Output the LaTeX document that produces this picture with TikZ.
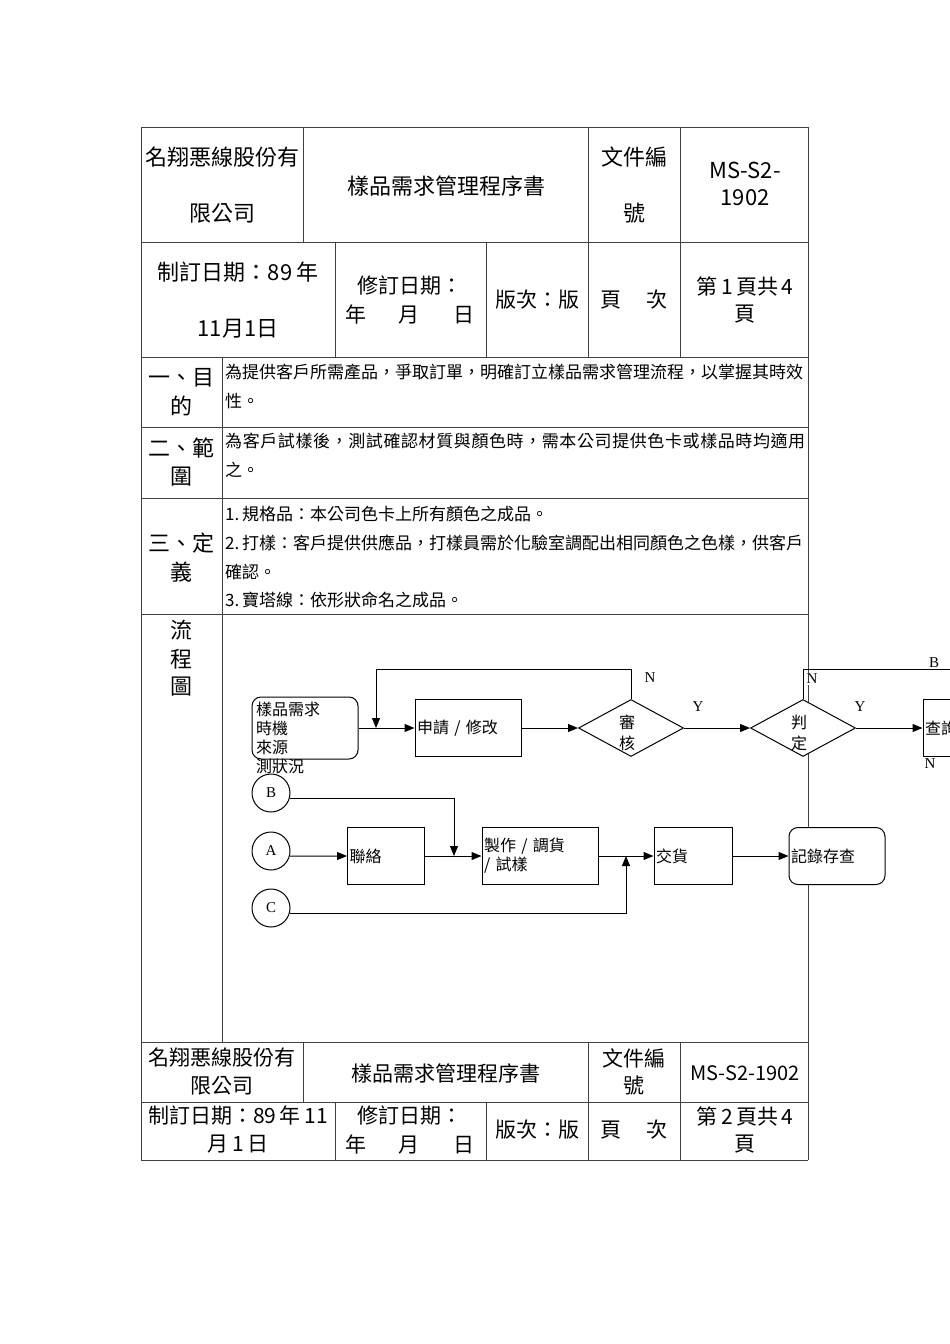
\documentclass[tikz,border=0pt]{standalone}
\usepackage{fontspec}
\setmainfont{Noto Sans CJK TC}
\newfontfamily\latserif{Liberation Serif}
\usetikzlibrary{arrows.meta,shapes.geometric,positioning}

\begin{document}
\begin{tikzpicture}[x=1pt, y=-1pt,
    grid/.style={line width=0.8pt, black!75},
    head/.style={font=\fontsize{22}{26}\selectfont, inner sep=0},
    foot/.style={font=\fontsize{21}{25}\selectfont, inner sep=0},
    body/.style={font=\fontsize{17}{20}\selectfont, anchor=west, inner sep=0},
    box/.style={draw, line width=1pt, fill=white, minimum height=57pt, inner xsep=2pt, text width=#1, align=left, font=\fontsize{16}{19}\selectfont},
    term/.style={draw, line width=1pt, fill=white, rounded corners=9pt, inner sep=0},
    decision/.style={diamond, draw, line width=1pt, fill=white, minimum width=105pt, minimum height=57pt, inner sep=0},
    dtext/.style={inner sep=0, align=center, font=\fontsize{16}{21}\selectfont},
    conn/.style={circle, draw, line width=1pt, fill=white, minimum size=38pt, inner sep=0, font=\latserif\fontsize{15}{18}\selectfont},
    flag/.style={font=\latserif\fontsize{15}{18}\selectfont, inner sep=1pt, fill=white},
    arr/.style={line width=1pt, -{Triangle[length=10pt,width=8pt]}},
    line/.style={line width=1pt}]
  \useasboundingbox (0,0) rectangle (950,1344);
  \clip (0,0) rectangle (950,1344);

  % table frame
  \foreach \y in {127,242,357,427,498,614,1042,1102,1160}
    \draw[grid] (141,\y) -- (808,\y);
  \draw[grid] (141,127) -- (141,1160);
  \draw[grid] (808,127) -- (808,1160);
  \draw[grid] (222,357) -- (222,1042);
  \foreach \x in {303,588,680} {
    \draw[grid] (\x,127) -- (\x,242);
    \draw[grid] (\x,1042) -- (\x,1102);
  }
  \foreach \x in {335,486,588,680} {
    \draw[grid] (\x,242) -- (\x,357);
    \draw[grid] (\x,1102) -- (\x,1160);
  }

  % header
  \node[head] (co1) at (222,157) {名翔悪線股份有};
  \node[head] (co2) at (222,213) {限公司};
  \node[head] (title) at (446,186) {樣品需求管理程序書};
  \node[head] (docno1) at (634,157) {文件編};
  \node[head] (docno2) at (634,213) {號};
  \node[head] (code1) at (745,170) {MS-S2-};
  \node[head] (code2) at (745,198) {1902};
  \node[head] (made1) at (238,272) {制訂日期：89\,年};
  \node[head] (made2) at (238,329) {11月1日};
  \node[head, font=\fontsize{21}{25}\selectfont] (rev1) at (410,286) {修訂日期：};
  \node[head, font=\fontsize{21}{25}\selectfont] (rev2) at (410,314) {年\hspace{1.5em}月\hspace{1.6em}日};
  \node[head, font=\fontsize{21}{25}\selectfont] (ver) at (537,300) {版次：版};
  \node[head, font=\fontsize{21}{25}\selectfont] (pg) at (634,300) {頁\hspace{1.2em}次};
  \node[head, font=\fontsize{21}{25}\selectfont] (pgno1) at (745,286) {第\,1\,頁共\,4};
  \node[head, font=\fontsize{21}{25}\selectfont] (pgno2) at (745,314) {頁};

  % sections
  \node[head] (s1a) at (181,378) {一、目};
  \node[head] (s1b) at (181,406) {的};
  \node[body] (p1) at (225,372) {為提供客戶所需產品，爭取訂單，明確訂立樣品需求管理流程，以掌握其時效};
  \node[body] (p2) at (225,401) {性。};
  \node[head] (s2a) at (181,448) {二、範};
  \node[head] (s2b) at (181,477) {圍};
  \node[body] (q1) at (225,441) {\addfontfeatures{LetterSpace=3.5}為客戶試樣後，測試確認材質與顏色時，需本公司提供色卡或樣品時均適用};
  \node[body] (q2) at (225,470) {之。};
  \node[head] (s3a) at (181,543) {三、定};
  \node[head] (s3b) at (181,572) {義};
  \node[body] (d1) at (225,514) {1.\,規格品：本公司色卡上所有顏色之成品。};
  \node[body] (d2) at (225,543) {2.\,打樣：客戶提供供應品，打樣員需於化驗室調配出相同顏色之色樣，供客戶};
  \node[body] (d3) at (225,572) {確認。};
  \node[body] (d4) at (225,600) {3.\,寶塔線：依形狀命名之成品。};
  \node[head] (s4a) at (181,630) {流};
  \node[head] (s4b) at (181,659) {程};
  \node[head] (s4c) at (181,687) {圖};

  % flow chart
  \node[term, minimum width=106pt, minimum height=62pt] (need) at (305,728) {};
  \node[anchor=north west, inner sep=0, align=left, font=\fontsize{16}{19}\selectfont] (needtxt) at (256,702) {樣品需求\\時機\\來源\\測狀況};
  \node[box=102pt] (apply) at (468,728) {申請 / 修改};
  \node[decision] (audit) at (631,728) {};
  \node[dtext] (audittxt) at (627,733) {審\\核};
  \node[decision] (judge) at (803,728) {};
  \node[dtext] (judgetxt) at (799,733) {判\\定};
  \node[box=102pt] (query) at (976,728) {查詢};
  \coordinate (j1) at (376,728);
  \coordinate (bout) at (960,669);
  \draw[arr] (need.east) -- (apply.west);
  \draw[arr] (audit.north) -- ++(0,-30) -| (j1);
  \draw[arr] (apply.east) -- (audit.west);
  \draw[arr] (audit.east) -- (judge.west);
  \draw[line] (judge.north) |- (bout);
  \draw[arr] (judge.east) -- (query.west);
  \node[flag] (n1) at (650,678) {N};
  \node[flag] (y1) at (698,707) {Y};
  \node[flag] (n2) at (812,679) {N};
  \node[flag] (y2) at (860,707) {Y};
  \node[flag] (b1) at (934,663) {B};
  \node[flag] (n3) at (930,764) {N};

  \node[conn] (cB) at (271,793) {B};
  \node[conn] (cA) at (271,851) {A};
  \node[conn] (cC) at (271,908) {C};
  \node[box=73pt, minimum width=77pt] (contact) at (386,856) {聯絡};
  \node[box=112pt] (make) at (540,856) {製作 / 調貨\\/ 試樣};
  \node[box=74pt] (deliver) at (693,856) {交貨};
  \node[box=92pt, rounded corners=9pt] (record) at (837,856) {記錄存查};
  \coordinate (j2) at (454,856);
  \coordinate (j3) at (626,856);
  \draw[arr] (cA.-15) -- (contact.west);
  \draw[arr] (contact.east) -- (make.west);
  \draw[arr] (cB.-15) -| (j2);
  \draw[arr] (make.east) -- (deliver.west);
  \draw[arr] (cC.-15) -| (j3);
  \draw[arr] (deliver.east) -- (record.west);

  % footer
  \node[foot] (fco1) at (222,1058) {名翔悪線股份有};
  \node[foot] (fco2) at (222,1086) {限公司};
  \node[foot] (ftitle) at (446,1073) {樣品需求管理程序書};
  \node[foot] (fdoc1) at (634,1058) {文件編};
  \node[foot] (fdoc2) at (634,1086) {號};
  \node[foot, font=\fontsize{20}{24}\selectfont] (fcode) at (745,1073) {MS-S2-1902};
  \node[foot] (fmade1) at (238,1116) {制訂日期：89\,年\,11};
  \node[foot] (fmade2) at (238,1144) {月\,1\,日};
  \node[foot] (frev1) at (410,1116) {修訂日期：};
  \node[foot] (frev2) at (410,1144) {年\hspace{1.5em}月\hspace{1.6em}日};
  \node[foot] (fver) at (537,1130) {版次：版};
  \node[foot] (fpg) at (634,1130) {頁\hspace{1.2em}次};
  \node[foot] (fpgno1) at (745,1116) {第\,2\,頁共\,4};
  \node[foot] (fpgno2) at (745,1144) {頁};
\end{tikzpicture}
\end{document}
